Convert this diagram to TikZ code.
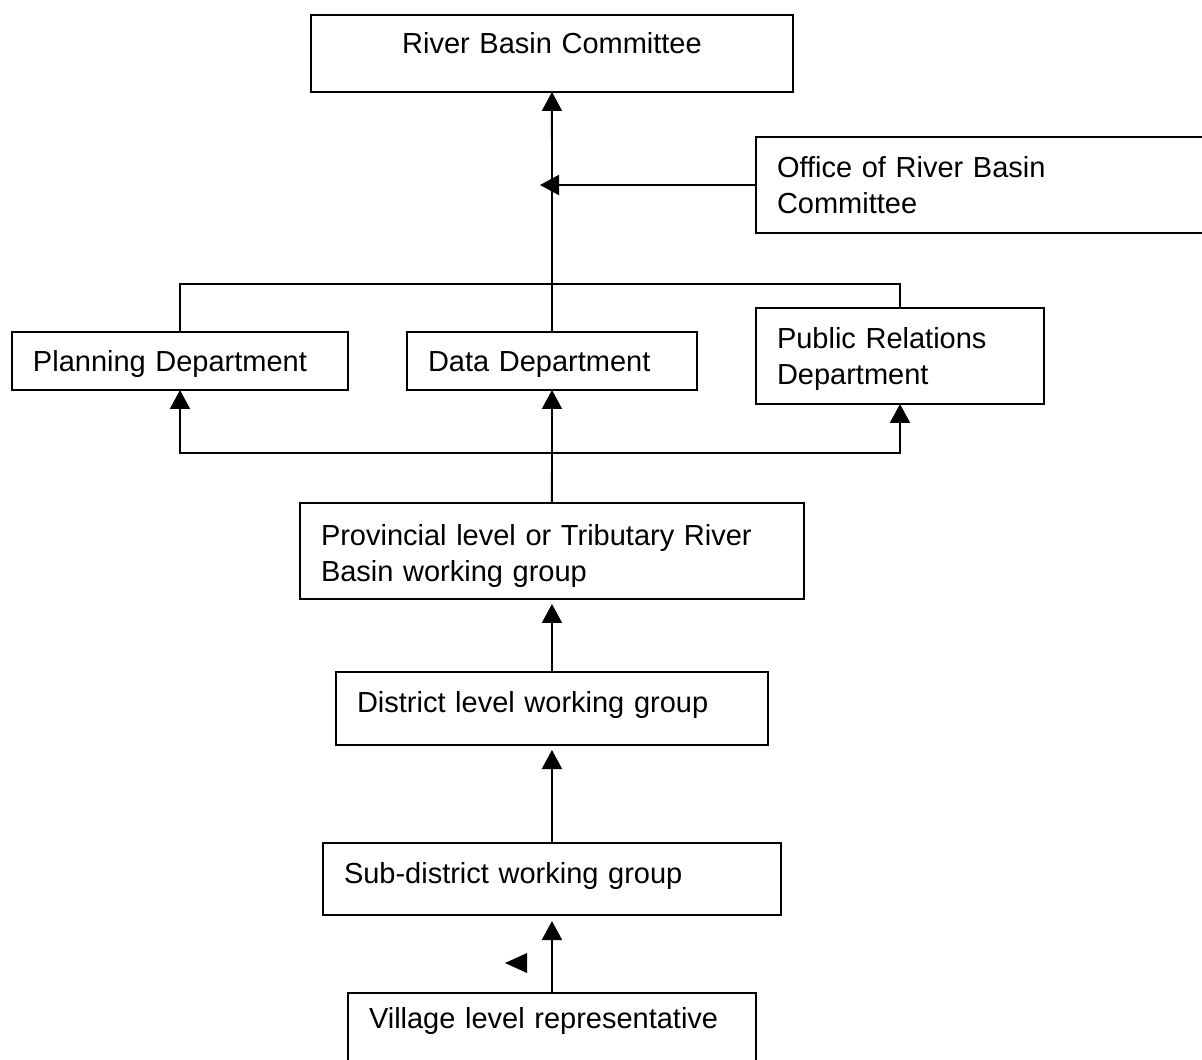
\documentclass[tikz,border=0pt]{standalone}
\usepackage{fontspec}
\setmainfont{Liberation Sans}
\usetikzlibrary{arrows.meta}

\begin{document}
\begin{tikzpicture}[x=0.02cm, y=-0.02cm, line width=1.1pt,
	unit/.style={draw, rectangle, anchor=north west, align=left,
		inner xsep=0.42cm, inner ysep=0pt, outer sep=0pt,
		font=\fontsize{16.5}{20.5}\selectfont},
	up/.style={-{Triangle[length=0.38cm, width=0.4cm]}}]
	
	\useasboundingbox (0,0) rectangle (1202,1059);
	\clip (0,0) rectangle (1202,1059);
	
	% Nodes
	\node[unit, align=center, text width=8.80cm, text height=0.78cm, text depth=0.76cm] (rbc) at (311,15) {River Basin Committee};
	\node[unit, text width=8.84cm, text height=0.8cm, text depth=1.12cm] (office) at (756,137) {Office of River Basin\\Committee};
	\node[unit, text width=5.88cm, text height=0.78cm, text depth=0.38cm] (plan) at (12,332) {Planning Department};
	\node[unit, text width=4.96cm, text height=0.78cm, text depth=0.38cm] (data) at (407,332) {Data Department};
	\node[unit, text width=4.92cm, text height=0.8cm, text depth=1.12cm] (pr) at (756,308) {Public Relations\\Department};
	\node[unit, text width=9.24cm, text height=0.84cm, text depth=1.08cm] (prov) at (300,503) {Provincial level or Tributary River\\Basin working group};
	\node[unit, text width=7.80cm, text height=0.8cm, text depth=0.66cm] (dist) at (336,672) {District level working group};
	\node[unit, text width=8.32cm, text height=0.8cm, text depth=0.64cm] (sub) at (323,843) {Sub-district working group};
	\node[unit, text width=7.32cm, text height=0.7cm, text depth=1.2cm] (vil) at (348,993) {Village level representative};
	
	% Joints
	\coordinate (join) at (540,185);
	\coordinate (topbar) at (552,284);
	\coordinate (lowbar) at (552,453);
	
	% Directed edges
	\draw[up] (data.north) -- (rbc.south);
	\draw[up] (office.west) -- (join);
	\draw (plan.north) |- (topbar) -| (pr.north);
	\draw[up] (prov.north) -- (data.south);
	\draw[up] (lowbar) -| (plan.south);
	\draw[up] (lowbar) -| (pr.south);
	\draw[up, shorten >=0.1cm] (dist.north) -- (dist.north |- prov.south);
	\draw[up, shorten >=0.1cm] (sub.north) -- (sub.north |- dist.south);
	\draw[up, shorten >=0.12cm] (vil.north) -- (vil.north |- sub.south);
	
	% Loose arrowhead
	\fill (527,953) -- (505,963) -- (527,973) -- cycle;
\end{tikzpicture}
\end{document}
